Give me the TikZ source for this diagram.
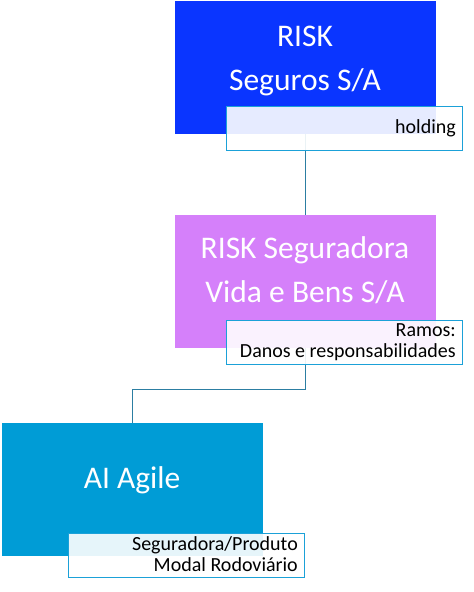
\documentclass[tikz,border=0pt]{standalone}
\usepackage{fontspec}
\setmainfont{Carlito}
\definecolor{c1}{HTML}{0A35FF}
\definecolor{c2}{HTML}{D580FA}
\definecolor{c3}{HTML}{009CD6}
\definecolor{lab}{HTML}{1BA1D8}
\definecolor{conn}{HTML}{2C7EA2}
\tikzset{
  box/.style={draw=none, fill=#1, minimum width=261pt, minimum height=133pt, inner sep=0pt, outer sep=0pt},
  boxtext/.style={text=white, font=\fontsize{31.5}{44}\selectfont, align=center, anchor=base, inner sep=0pt},
  labbox/.style={draw=lab, line width=1pt, fill=white, fill opacity=0.9, text opacity=1, minimum width=236pt, minimum height=44pt, inner sep=0pt, outer sep=0pt},
  labtext/.style={text=black, font=\fontsize{20}{21}\selectfont, align=right, anchor=base east, inner sep=0pt},
  conline/.style={draw=conn, line width=1pt}
}
\begin{document}
\begin{tikzpicture}[x=1pt,y=-1pt]
\useasboundingbox (0,0) rectangle (474,592);
% boxes
\node[box=c1] (b1) at (305.5,67.5) {};
\node[box=c2] (b2) at (305.5,281.5) {};
\node[box=c3] (b3) at (132,489) {};
% connectors
\draw[conline] (b1.south) -- (b2.north);
\draw[conline] (b2.south) -- ++(0,41) -| (b3.north);
% titles
\node[boxtext] (t1) at (305,90) {RISK\\Seguros S/A};
\node[boxtext] (t2) at (305,302) {RISK Seguradora\\Vida e Bens S/A};
\node[boxtext] (t3) at (132,488) {AI Agile};
% label boxes
\node[labbox] (l1) at (344,128) {};
\node[labbox] (l2) at (344,342.5) {};
\node[labbox] (l3) at (186,555.5) {};
\node[labtext] (lt1) at (456,133) {holding};
\node[labtext] (lt2) at (456,357) {Ramos:\\Danos e responsabilidades};
\node[labtext] (lt3) at (298,571) {Seguradora/Produto\\Modal Rodoviário};
\end{tikzpicture}
\end{document}
